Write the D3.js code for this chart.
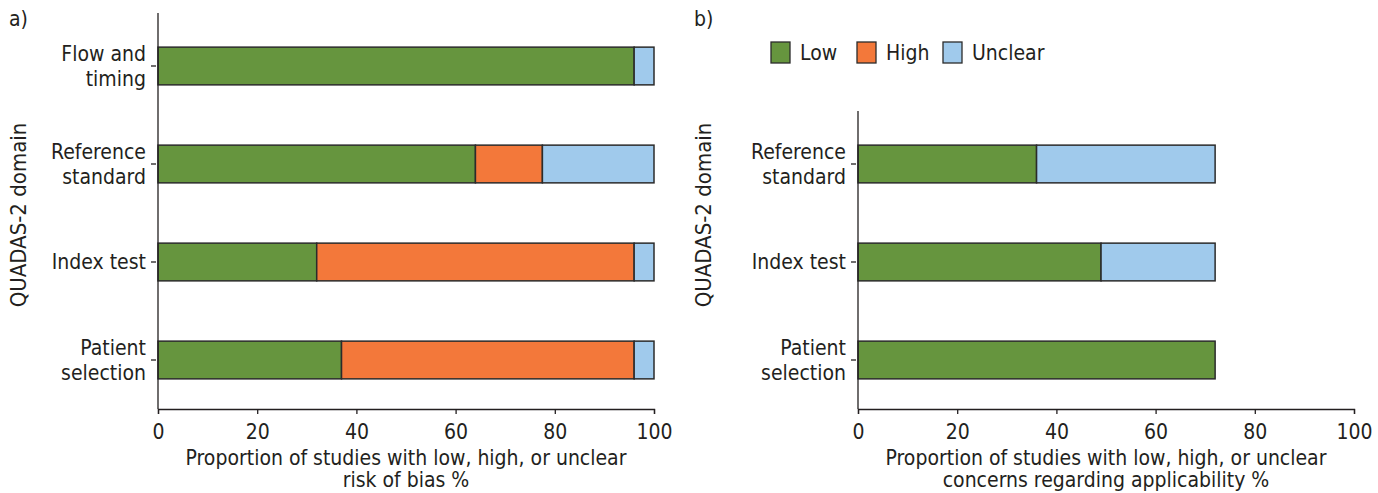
<!DOCTYPE html>
<html>
<head>
<meta charset="utf-8">
<script src="https://cdn.jsdelivr.net/npm/d3@7/dist/d3.min.js"></script>
<style>
  html, body { margin: 0; padding: 0; background: #fff; }
  svg { display: block; }
  text { font-family: "Liberation Sans Narrow", "DejaVu Sans Condensed", "Roboto", sans-serif; fill: #231f20; }
</style>
</head>
<body>
<svg id="chart" width="1378" height="493"></svg>
<script>
// ---- Data ----
const seriesNames = ["Low", "High", "Unclear"];
const seriesColors = ["#66953e", "#f3783a", "#a0caec"];

const biasDomains = ["Flow and timing", "Reference standard", "Index test", "Patient selection"];
const biasLow     = [96, 64, 32, 37];
const biasHigh    = [0, 13.5, 64, 59];
const biasUnclear = [4, 22.5, 4, 4];

const applDomains = ["Reference standard", "Index test", "Patient selection"];
const applLow     = [36, 49, 72];
const applHigh    = [0, 0, 0];
const applUnclear = [36, 23, 0];

const xTicks = [0, 20, 40, 60, 80, 100];
const labelLines = {
  "Flow and timing": ["Flow and", "timing"],
  "Reference standard": ["Reference", "standard"],
  "Index test": ["Index test"],
  "Patient selection": ["Patient", "selection"]
};

const svg = d3.select("#chart");
const FS = 21;
const FONT = '"Liberation Sans Narrow", "DejaVu Sans Condensed", sans-serif';

function panel(opts) {
  const { x0, x1, yTop, yBottom, domains, low, high, unclear, letter, letterX, titleLines, yTitleX } = opts;
  const g = svg.append("g");
  const x = d3.scaleLinear().domain([0, 100]).range([x0, x1]);
  const y = d3.scaleBand().domain(domains).range([yTop, yBottom]).paddingInner(0.615).paddingOuter(0.3075);

  const rows = domains.map((d, i) => ({ domain: d, vals: [low[i], high[i], unclear[i]] }));
  rows.forEach(r => {
    let cum = 0;
    r.vals.forEach((v, k) => {
      if (v > 0) {
        g.append("rect")
          .attr("x", x(cum))
          .attr("y", y(r.domain))
          .attr("width", x(cum + v) - x(cum))
          .attr("height", y.bandwidth())
          .attr("fill", seriesColors[k])
          .attr("stroke", "#2b2b2b")
          .attr("stroke-width", 1.5);
      }
      cum += v;
    });
  });

  // y axis line
  g.append("line").attr("x1", x0).attr("x2", x0).attr("y1", yTop - 4).attr("y2", yBottom)
    .attr("stroke", "#231f20").attr("stroke-width", 1.3);
  // y ticks + labels
  domains.forEach(d => {
    const cy = y(d) + y.bandwidth() / 2;
    g.append("line").attr("x1", x0 - 7).attr("x2", x0 - 2).attr("y1", cy).attr("y2", cy)
      .attr("stroke", "#231f20").attr("stroke-width", 1.3);
    const lines = labelLines[d];
    const t = g.append("text").attr("text-anchor", "end").attr("font-size", FS);
    lines.forEach((ln, i) => {
      t.append("tspan").attr("x", x0 - 12)
        .attr("y", cy + 7 + (i - (lines.length - 1) / 2) * 25)
        .text(ln);
    });
  });

  // x axis
  const xAxis = d3.axisBottom(x).tickValues(xTicks).tickSize(5).tickPadding(10);
  const ax = g.append("g").attr("transform", `translate(0,${yBottom})`).call(xAxis);
  ax.select(".domain").attr("stroke", "#231f20").attr("stroke-width", 1.3);
  ax.selectAll(".tick line").attr("stroke", "#231f20").attr("stroke-width", 1.3);
  ax.selectAll(".tick text").attr("font-size", FS).attr("fill", "#231f20")
    .style("font-family", FONT);

  // x title
  const cx = (x0 + x1) / 2;
  const tt = g.append("text").attr("text-anchor", "middle").attr("font-size", FS);
  titleLines.forEach((ln, i) => {
    tt.append("tspan").attr("x", cx).attr("y", 465 + i * 22).text(ln);
  });

  // y title
  g.append("text").attr("transform", `translate(${yTitleX},215) rotate(-90)`)
    .attr("text-anchor", "middle").attr("font-size", 22).text("QUADAS-2 domain");

  // panel letter
  g.append("text").attr("x", letterX).attr("y", 26).attr("font-size", FS).text(letter);
  return y;
}

panel({
  x0: 158, x1: 654, yTop: 17, yBottom: 409,
  domains: biasDomains, low: biasLow, high: biasHigh, unclear: biasUnclear,
  letter: "a)", letterX: 9,
  titleLines: ["Proportion of studies with low, high, or unclear", "risk of bias %"],
  yTitleX: 26
});

panel({
  x0: 858, x1: 1354, yTop: 115, yBottom: 409,
  domains: applDomains, low: applLow, high: applHigh, unclear: applUnclear,
  letter: "b)", letterX: 694,
  titleLines: ["Proportion of studies with low, high, or unclear", "concerns regarding applicability %"],
  yTitleX: 711
});

// Legend
const legendX = [771, 857, 943];
const lg = svg.append("g");
seriesNames.forEach((s, i) => {
  lg.append("rect").attr("x", legendX[i]).attr("y", 42).attr("width", 19).attr("height", 21)
    .attr("fill", seriesColors[i]).attr("stroke", "#2b2b2b").attr("stroke-width", 1.3);
  lg.append("text").attr("x", legendX[i] + 29).attr("y", 60).attr("font-size", FS).text(s);
});
</script>
</body>
</html>
